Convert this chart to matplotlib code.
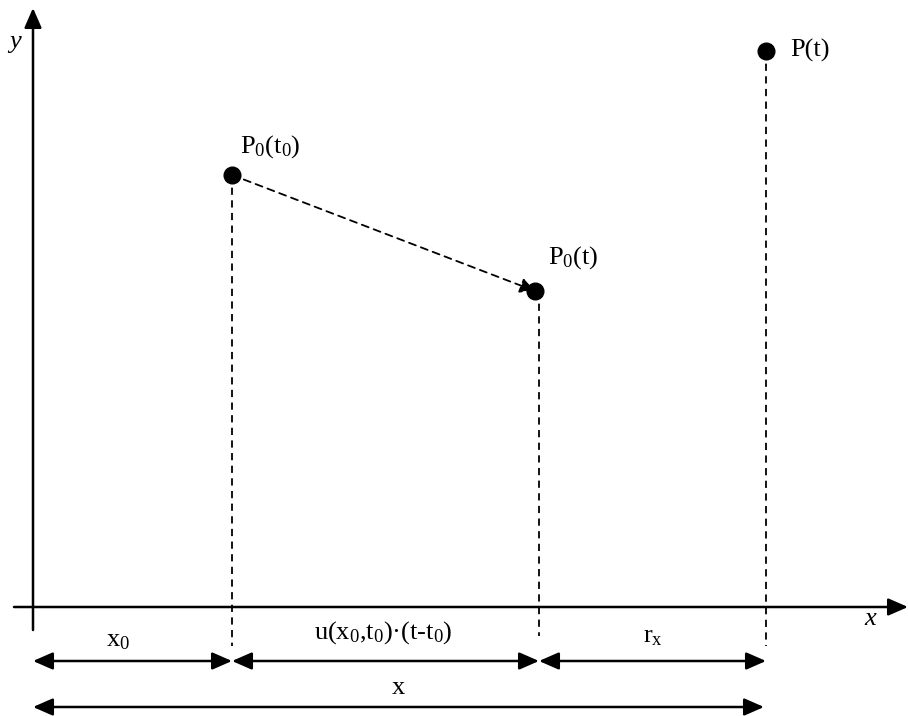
import matplotlib.pyplot as plt

plt.rcParams['font.family'] = ['Liberation Serif', 'DejaVu Serif']
plt.rcParams['mathtext.fontset'] = 'custom'
plt.rcParams['mathtext.rm'] = 'Liberation Serif'
plt.rcParams['mathtext.it'] = 'Liberation Serif:italic'

# positions in picture units (pixels, y downward)
point_names = ['P0(t0)', 'P0(t)', 'P(t)']
point_x = [232, 535, 766]
point_y = [175, 291, 51]
point_labels = [r'P$_0$(t$_0$)', r'P$_0$(t)', 'P(t)']
label_x = [270, 548, 790]
label_y = [147, 258, 50]
label_ha = ['center', 'left', 'left']

drop_x = [232, 539, 766]
drop_top = [175, 291, 51]
drop_bottom = [646, 636, 646]

axis_y = 607
axis_x = 33

dim_edges = [33, 232, 539, 766]
dim_labels = [r'x$_0$', r'u(x$_0$,t$_0$)·(t-t$_0$)', r'r$_\mathrm{x}$']
dim_label_x = [118, 383, 653]
dim_label_y = [641, 633, 637]
dim_y = 661

total_y = 707
total_end = 764

fs = 19

fig = plt.figure(figsize=(9.08, 7.16), dpi=100)
ax = fig.add_axes([0, 0, 1, 1])
ax.set_xlim(0, 908)
ax.set_ylim(716, 0)
ax.axis('off')

head = dict(arrowstyle='-|>,head_length=0.8,head_width=0.35', color='black', lw=1.8,
            shrinkA=0, shrinkB=0, mutation_scale=15)

# axes
ax.annotate('', xy=(908, axis_y), xytext=(14, axis_y), arrowprops=head)
ax.annotate('', xy=(axis_x, 8), xytext=(axis_x, 630), arrowprops=head)
ax.text(15, 42, 'y', style='italic', fontsize=fs, ha='center', va='center')
ax.text(870, 619, 'x', style='italic', fontsize=fs, ha='center', va='center')

# dashed drop lines
for x, t, b in zip(drop_x, drop_top, drop_bottom):
    ax.plot([x, x], [t, b], color='black', lw=1.3, ls=(0, (4, 3)))

# dashed displacement arrow
dash_head = dict(head)
dash_head.update(lw=1.3, linestyle=(0, (4, 3)), arrowstyle='-|>,head_length=0.6,head_width=0.3')
ax.annotate('', xy=(point_x[1], point_y[1]), xytext=(point_x[0], point_y[0]),
            arrowprops=dash_head)

# points and labels
ax.plot(point_x, point_y, 'o', color='black', ms=12, zorder=5)
for lx, ly, s, ha in zip(label_x, label_y, point_labels, label_ha):
    ax.text(lx, ly, s, fontsize=fs, ha=ha, va='center')

# dimension arrows
both = dict(head)
both['arrowstyle'] = '<|-|>,head_length=0.8,head_width=0.35'
for i in range(3):
    ax.annotate('', xy=(dim_edges[i + 1], dim_y), xytext=(dim_edges[i], dim_y), arrowprops=both)
    ax.text(dim_label_x[i], dim_label_y[i], dim_labels[i], fontsize=fs, ha='center', va='center')

ax.annotate('', xy=(total_end, total_y), xytext=(dim_edges[0], total_y), arrowprops=both)
ax.text(398, 688, 'x', fontsize=fs, ha='center', va='center')

fig.savefig('out.png', dpi=100)
